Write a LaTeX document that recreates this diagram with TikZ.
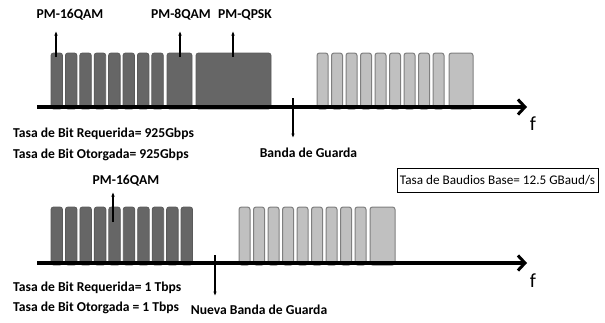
\documentclass[tikz,border=0pt]{standalone}
\usepackage{fontspec}
\setmainfont{Carlito}
\usetikzlibrary{arrows.meta}
\definecolor{darkbar}{HTML}{666666}
\definecolor{darkedge}{HTML}{5A5A5A}
\definecolor{lightbar}{HTML}{C0C0C0}
\definecolor{lightedge}{HTML}{7F7F7F}
\tikzset{
  darkb/.style={fill=darkbar, draw=darkedge, line width=0.8pt, rounded corners=2.5pt},
  lightb/.style={fill=lightbar, draw=lightedge, line width=1pt, rounded corners=2.5pt},
  axisline/.style={line width=3.6pt, -{Straight Barb[length=7pt,width=15pt,line width=3pt]}},
  thinarrow/.style={line width=1.1pt, -{Latex[length=4.5pt,width=3.5pt]}},
  lbl/.style={font=\fontsize{13.6}{15}\selectfont\bfseries, inner sep=0pt},
  ftxt/.style={font=\fontsize{20}{22}\selectfont, inner sep=0pt},
  boxtxt/.style={draw, line width=1pt, font=\fontsize{13.2}{15}\selectfont, inner sep=0pt, minimum width=201pt, minimum height=24pt}
}
\begin{document}
\begin{tikzpicture}[x=1pt,y=-1pt]
\useasboundingbox (0,0) rectangle (605,322);
% ---------- top spectrum ----------
\foreach \i in {0,...,7} {
  \draw[darkb] ({51+\i*14.4},109) rectangle ({62.5+\i*14.4},53);
}
\draw[darkb] (167,109) rectangle (192,53);
\draw[darkb] (196,109) rectangle (271,53);
\foreach \i in {0,...,8} {
  \draw[lightb] ({317+\i*14.5},109) rectangle ({328+\i*14.5},53);
}
\draw[lightb] (449,109) rectangle (473,53);
\coordinate (a1s) at (37,107);
\coordinate (a1e) at (527,107);
\draw[axisline] (a1s) -- (a1e);
\node[ftxt] (f1) at (533,124) {f};

\node[lbl] (l16) at (70,15) {PM-16QAM};
\node[lbl] (l8) at (181,15) {PM-8QAM};
\node[lbl] (lq) at (245,15) {PM-QPSK};
\coordinate (p16) at (56,57);
\coordinate (p8) at (180,57);
\coordinate (pq) at (233,57);
\draw[thinarrow] (p16) -- (56,31);
\draw[thinarrow] (p8) -- (180,31);
\draw[thinarrow] (pq) -- (233,31);

\node[lbl, anchor=west] (r1) at (13,134) {Tasa de Bit Requerida= 925Gbps};
\node[lbl, anchor=west] (o1) at (13,155) {Tasa de Bit Otorgada= 925Gbps};
\coordinate (g1) at (293,98);
\coordinate (g1e) at (293,138);
\draw[thinarrow] (g1) -- (g1e);
\node[lbl] (bg1) at (308.5,153) {Banda de Guarda};

\node[boxtxt] (baud) at (497.5,180) {Tasa de Baudios Base= 12.5 GBaud/s};

% ---------- bottom spectrum ----------
\foreach \i in {0,...,9} {
  \draw[darkb] ({51+\i*14.45},265) rectangle ({62.5+\i*14.45},207);
}
\foreach \i in {0,...,8} {
  \draw[lightb] ({239+\i*14.5},265) rectangle ({250+\i*14.5},207);
}
\draw[lightb] (370,265) rectangle (395,207);
\coordinate (a2s) at (37,263);
\coordinate (a2e) at (527,263);
\draw[axisline] (a2s) -- (a2e);
\node[ftxt] (f2) at (533,281) {f};

\node[lbl] (l16b) at (126,181) {PM-16QAM};
\coordinate (p16b) at (113,222);
\draw[thinarrow] (p16b) -- (113,192);

\node[lbl, anchor=west] (r2) at (13,288) {Tasa de Bit Requerida= 1 Tbps};
\node[lbl, anchor=west] (o2) at (13,308) {Tasa de Bit Otorgada = 1 Tbps};
\coordinate (g2) at (215,255);
\coordinate (g2e) at (215,296);
\draw[thinarrow] (g2) -- (g2e);
\node[lbl] (bg2) at (259,310) {Nueva Banda de Guarda};
\end{tikzpicture}
\end{document}
